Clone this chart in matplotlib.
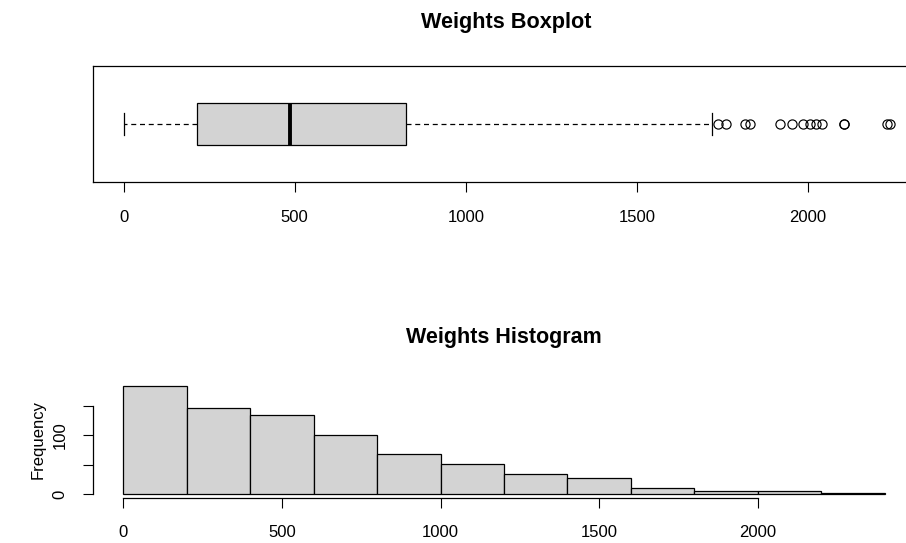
import matplotlib
matplotlib.use("Agg")
import matplotlib.pyplot as plt
import numpy as np

plt.rcParams['font.family'] = ['Liberation Sans', 'DejaVu Sans']

# boxplot summary of the weights
box_q1 = 215
box_median = 486
box_q3 = 825
whisker_low = 0
whisker_high = 1721
outliers = [1738, 1762, 1815, 1832, 1918, 1953, 1985, 2006, 2024, 2041,
            2106, 2106, 2232, 2241]

# histogram bins (width 200) and their counts
bin_edges = [0, 200, 400, 600, 800, 1000, 1200, 1400, 1600, 1800, 2000, 2200, 2400]
bin_counts = [184, 146, 134, 100, 69, 51, 35, 28, 10, 5, 5, 2]

box_ticks = [0, 500, 1000, 1500, 2000]
hist_xticks = [0, 500, 1000, 1500, 2000]
hist_yticks = [0, 50, 100, 150]
hist_ylabels = ['0', '', '100', '']

GRAY = '#d3d3d3'
W, H = 906, 543
fig = plt.figure(figsize=(W / 100, H / 100), dpi=100)


def px_axes(left, top, right, bottom):
    return fig.add_axes([left / W, 1 - bottom / H, (right - left) / W, (bottom - top) / H])


# ---- boxplot ----
ax1 = px_axes(93, 66, 921, 182)
stats = [dict(q1=box_q1, med=box_median, q3=box_q3,
              whislo=whisker_low, whishi=whisker_high, fliers=outliers)]
ax1.bxp(stats, positions=[1], widths=0.4, capwidths=0.2,
        orientation='horizontal', patch_artist=True,
        boxprops=dict(facecolor=GRAY, edgecolor='black', linewidth=0.9),
        medianprops=dict(color='black', linewidth=2.8, solid_capstyle='butt'),
        whiskerprops=dict(color='black', linewidth=0.9, linestyle=(0, (4, 3))),
        capprops=dict(color='black', linewidth=0.9),
        flierprops=dict(marker='o', markersize=6.6, markerfacecolor='none',
                        markeredgecolor='black', markeredgewidth=0.85))
ax1.set_xlim(-89.6, 2330.6)
ax1.set_ylim(0.46, 1.54)
ax1.set_yticks([])
ax1.set_xticks(box_ticks)
ax1.set_xticklabels([str(t) for t in box_ticks])
ax1.tick_params(axis='x', length=7.5, width=0.8, pad=12.5, labelsize=12)
for sp in ax1.spines.values():
    sp.set_linewidth(0.9)
fig.text(506 / W, 1 - 28.3 / H, 'Weights Boxplot', ha='center', va='baseline',
         fontsize=15.6, fontweight='bold')

# ---- histogram ----
ax2 = px_axes(93, 381.2, 915, 497.7)
edges = np.array(bin_edges)
ax2.bar(edges[:-1], bin_counts, width=np.diff(edges), align='edge',
        color=GRAY, edgecolor='black', linewidth=0.9)
ax2.set_xlim(-96, 2496)
ax2.set_ylim(-5.76, 191.5)
for side in ('top', 'right'):
    ax2.spines[side].set_visible(False)
ax2.spines['bottom'].set_bounds(0, 2000)
ax2.spines['left'].set_bounds(0, 150)
ax2.spines['bottom'].set_linewidth(0.9)
ax2.spines['left'].set_linewidth(0.9)
ax2.set_xticks(hist_xticks)
ax2.set_xticklabels([str(t) for t in hist_xticks])
ax2.set_yticks(hist_yticks)
ax2.set_yticklabels(hist_ylabels, rotation=90, va='center')
ax2.tick_params(axis='x', length=7.5, width=0.8, pad=12.5, labelsize=12)
ax2.tick_params(axis='y', length=7.5, width=0.8, pad=11, labelsize=12)
ax2.set_ylabel('Frequency', fontsize=12)
ax2.yaxis.set_label_coords(-(93 - 46) / 822, 0.5)
fig.text(504 / W, 1 - 343.3 / H, 'Weights Histogram', ha='center', va='baseline',
         fontsize=15.5, fontweight='bold')

fig.savefig('out.png', dpi=100)
